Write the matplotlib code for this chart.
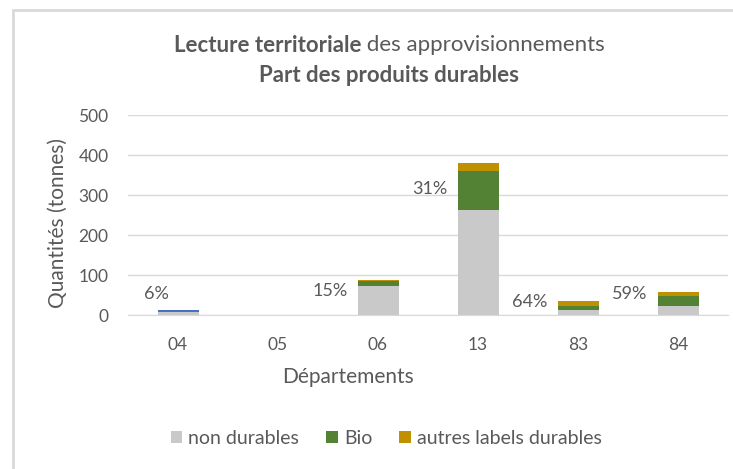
import matplotlib.pyplot as plt
from matplotlib.patches import Rectangle
import numpy as np

# Données (tonnes) par département
departements = ['04', '05', '06', '13', '83', '84']
non_durables = [8, 0.6, 72, 262, 12.5, 23]
bio = [0, 0.6, 14, 99, 10.5, 25]
autres_labels = [0, 0, 2, 20, 13, 9]
autres_bleu = [4.5, 0, 0, 0, 0, 0]
part_durable = ['6%', '', '15%', '31%', '64%', '59%']
pos_etiquette = [52, 0, 60, 315, 33, 52]
decalage_etiquette = [-0.22, 0, -0.475, -0.485, -0.48, -0.48]

plt.rcParams['font.family'] = ['Lato', 'DejaVu Sans']
gris_texte = '#595959'

fig = plt.figure(figsize=(7.33, 4.69), dpi=100)
ax = fig.add_axes([128 / 733, 1 - 315 / 469, 600 / 733, 200 / 469])

x = np.arange(len(departements))
w = 0.41
b1 = np.array(non_durables)
b2 = b1 + np.array(bio)
b3 = b2 + np.array(autres_labels)

ax.bar(x, non_durables, w, color='#c9c9c9', label='non durables')
ax.bar(x, bio, w, bottom=b1, color='#548235', label='Bio')
ax.bar(x, autres_labels, w, bottom=b2, color='#bf9000', label='autres labels durables')
ax.bar(x, autres_bleu, w, bottom=b3, color='#4472c4')

for i, txt in enumerate(part_durable):
    if txt:
        ax.text(x[i] + decalage_etiquette[i], pos_etiquette[i], txt, ha='center', va='center',
                fontsize=13, color=gris_texte)

ax.set_xlim(-0.5, len(departements) - 0.5)
ax.set_ylim(0, 500)
ax.set_yticks(range(0, 501, 100))
ax.set_xticks(x)
ax.set_xticklabels(departements)
ax.grid(axis='y', color='#d9d9d9', linewidth=1)
ax.set_axisbelow(True)
for s in ['top', 'right', 'left']:
    ax.spines[s].set_visible(False)
ax.spines['bottom'].set_color('#d9d9d9')
ax.tick_params(axis='y', length=0, colors=gris_texte, labelsize=12.5, pad=14)
ax.tick_params(axis='x', length=0, colors=gris_texte, labelsize=12.5, pad=16)

ax.set_ylabel('Quantités (tonnes)', fontsize=15, color=gris_texte, va='center')
ax.yaxis.set_label_coords(-70 / 600, 0.46)
ax.set_xlabel('Départements', fontsize=15, color=gris_texte, va='center')
ax.xaxis.set_label_coords(0.367, -0.31)

# Titre sur deux lignes, partie en gras
fig.text(0.4925, 0.904, 'Lecture territoriale', ha='right', va='center', fontsize=16,
         fontweight='bold', color=gris_texte)
fig.text(0.4925, 0.904, ' des approvisionnements', ha='left', va='center', fontsize=16,
         color=gris_texte)
fig.text(0.531, 0.840, 'Part des produits durables', ha='center', va='center', fontsize=16,
         fontweight='bold', color=gris_texte)

fig.legend(handles=ax.containers[:3], labels=['non durables', 'Bio', 'autres labels durables'],
           loc='center', bbox_to_anchor=(0.527, 0.066), ncol=3, frameon=False,
           fontsize=14, handlelength=0.6, handleheight=0.6, handletextpad=0.3,
           columnspacing=1.4, labelcolor=gris_texte)

# Cadre du graphique (bords gauche et haut visibles)
fig.patches.append(Rectangle((13 / 733, -0.2), 1.2, 1.2 - 10 / 469 + 0.0,
                             transform=fig.transFigure, fill=False,
                             edgecolor='#d9d9d9', linewidth=2))

fig.savefig('out.png', dpi=100)
